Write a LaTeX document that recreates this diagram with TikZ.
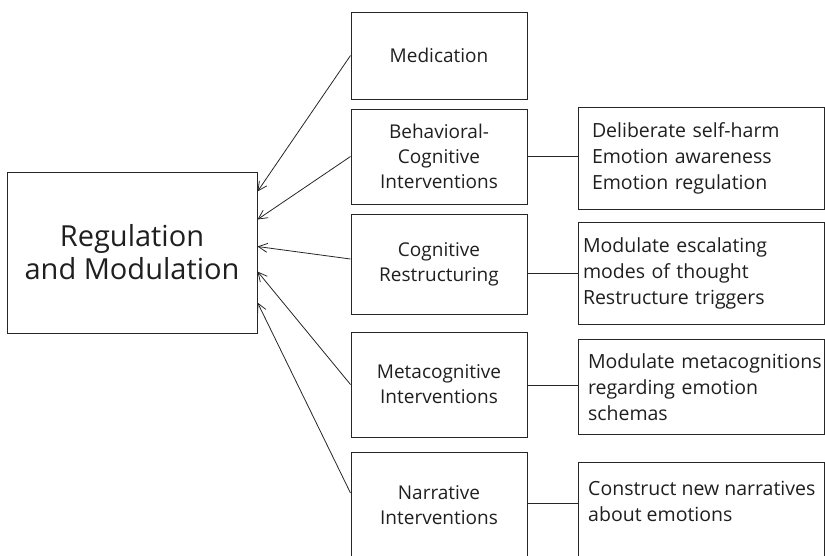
\documentclass[tikz,border=0pt]{standalone}
\usepackage{fontspec}
\setmainfont{Open Sans}
\usetikzlibrary{arrows.meta}
\hyphenpenalty=10000
\exhyphenpenalty=10000
\begin{document}
\begin{tikzpicture}[x=1pt,y=-1pt,
  box/.style={draw=black!85, line width=1pt, inner sep=0pt, align=center,
    text=black!88, font=\fontsize{19}{25}\selectfont},
  midbox/.style={box, minimum width=176pt},
  sidebox/.style={box, minimum width=246pt, align=left,
    font=\fontsize{19.5}{26}\selectfont},
  sidetext/.style={inner sep=0pt, align=left, text=black!88,
    font=\fontsize{19.5}{26}\selectfont},
  feed/.style={draw=black!85, line width=0.8pt, -{Straight Barb[length=9pt,width=9pt]}},
  link/.style={draw=black!85, line width=0.8pt}]
  \path[use as bounding box] (0,0) rectangle (825,555);
  \clip (0,0) rectangle (825,555);

  % central outcome
  \node[box, minimum width=250pt, minimum height=161pt,
    font=\fontsize{29}{33}\selectfont] (reg) at (132,252.5) {Regulation\\and Modulation};

  % intervention column
  \node[midbox, minimum height=87pt]  (med)  at (439,55.5)  {Medication};
  \node[midbox, minimum height=95pt]  (beh)  at (439,156.5) {Behavioral-\\Cognitive\\Interventions};
  \node[midbox, minimum height=100pt] (cog)  at (439,264)   {Cognitive\\Restructuring};
  \node[midbox, minimum height=105pt] (meta) at (439,384.5) {Metacognitive\\Interventions};
  \node[midbox, minimum height=106pt] (narr) at (439,505)   {Narrative\\Interventions};

  % detail column
  \node[sidebox, minimum height=102pt, text width=218pt] (rbeh)  at (701,158)
    {Deliberate~self-harm\\Emotion~awareness\\Emotion~regulation};
  \node[sidebox, minimum height=102pt, text width=236pt] (rcog)  at (701,273)
    {Modulate~escalating\\modes~of~thought\\Restructure~triggers};
  \node[sidebox, minimum height=95pt, text width=226pt]  (rmeta) at (701,387)
    {Modulate~metacognitions\\regarding~emotion\\schemas};
  \node[sidebox, minimum height=100pt] (rnarr) at (701,512) {};
  \node[sidetext, anchor=west] (rnarrtext) at (588,501)
    {Construct~new~narratives\\about~emotions};

  % arrows into the outcome box
  \draw[feed] (med.west)  -- ([yshift=-20pt]reg.north east);
  \draw[feed] (beh.west)  -- ([yshift=-48pt]reg.north east);
  \draw[feed] ([yshift=5pt]cog.west) -- ([yshift=-75pt]reg.north east);
  \draw[feed] (meta.west) -- ([yshift=-100pt]reg.north east);
  \draw[feed] ([yshift=12pt]narr.west) -- ([yshift=-131pt]reg.north east);

  % links to the detail boxes
  \draw[link] (beh.east) -- (beh.east -| rbeh.west);
  \draw[link] (rcog.west -| cog.east) -- (rcog.west);
  \draw[link] ([yshift=2pt]rmeta.west -| meta.east) -- ([yshift=2pt]rmeta.west);
  \draw[link] ([yshift=2pt]narr.east) -- ([yshift=2pt]narr.east -| rnarr.west);
\end{tikzpicture}
\end{document}
